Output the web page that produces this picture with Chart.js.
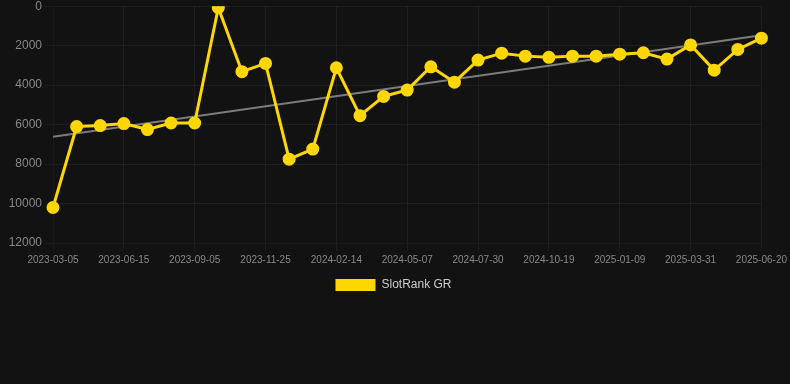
<!DOCTYPE html>
<html>
<head>
<meta charset="utf-8">
<script src="https://cdn.jsdelivr.net/npm/chart.js@4/dist/chart.umd.min.js"></script>
<style>
  html, body { margin: 0; padding: 0; background: #121212; overflow: hidden; }
  .chart-container { width: 790px; height: 305px; position: relative; margin-top: -4px; }
</style>
</head>
<body>
<div class="chart-container">
  <canvas id="rankChart"></canvas>
</div>
<script>
// dates (every third one is shown on the axis)
const dates = [
  '2023-03-05', '2023-04-08', '2023-05-12', '2023-06-15', '2023-07-12', '2023-08-08',
  '2023-09-05', '2023-10-02', '2023-10-29', '2023-11-25', '2023-12-22', '2024-01-18',
  '2024-02-14', '2024-03-11', '2024-04-09', '2024-05-07', '2024-06-03', '2024-07-02',
  '2024-07-30', '2024-08-26', '2024-09-22', '2024-10-19', '2024-11-15', '2024-12-13',
  '2025-01-09', '2025-02-05', '2025-03-04', '2025-03-31', '2025-04-27', '2025-05-24',
  '2025-06-20'
];

const rankValues = [
  10200, 6100, 6050, 5950, 6250, 5920, 5920, 80, 3320, 2900,
  7750, 7240, 3120, 5550, 4570, 4250, 3070, 3850, 2730, 2380,
  2530, 2590, 2530, 2530, 2430, 2360, 2680, 1960, 3240, 2190,
  1620
];

// trend line, start and end
const trendEnds = [6620, 1470];

const trendValues = dates.map((d, i) => {
    if (i === 0) return trendEnds[0];
    if (i === dates.length - 1) return trendEnds[1];
    return null;
});

const tickColor = '#888888';
const gridColor = 'rgba(255,255,255,0.05)';

new Chart(document.getElementById('rankChart'), {
    type: 'line',
    data: {
        labels: dates,
        datasets: [
            {
                label: 'SlotRank GR',
                data: rankValues,
                borderColor: '#FFD700',
                backgroundColor: '#FFD700',
                borderWidth: 3,
                pointRadius: 5,
                pointHoverRadius: 6,
                tension: 0
            },
            {
                label: 'Trend',
                data: trendValues,
                borderColor: 'rgba(160,160,160,0.75)',
                borderWidth: 2,
                pointRadius: 0,
                spanGaps: true,
                tension: 0
            }
        ]
    },
    options: {
        responsive: true,
        maintainAspectRatio: false,
        animation: false,
        layout: { padding: { right: 3 } },
        scales: {
            x: {
                grid: { color: gridColor },
                ticks: {
                    color: tickColor,
                    font: { size: 10 },
                    maxRotation: 0,
                    autoSkip: true,
                    maxTicksLimit: 11
                }
            },
            y: {
                reverse: true,
                min: 0,
                max: 12000,
                grid: { color: gridColor },
                afterFit: scale => { scale.width = 53; },
                ticks: {
                    color: tickColor,
                    font: { size: 12 },
                    stepSize: 2000,
                    callback: v => String(v)
                }
            }
        },
        plugins: {
            legend: {
                position: 'bottom',
                labels: {
                    color: '#cccccc',
                    font: { size: 12 },
                    boxWidth: 40,
                    generateLabels: chart =>
                        Chart.defaults.plugins.legend.labels.generateLabels(chart)
                            .filter(item => item.text !== 'Trend')
                            .map(item => ({ ...item, lineWidth: 0 }))
                }
            },
            tooltip: { enabled: false }
        }
    }
});
</script>
</body>
</html>
